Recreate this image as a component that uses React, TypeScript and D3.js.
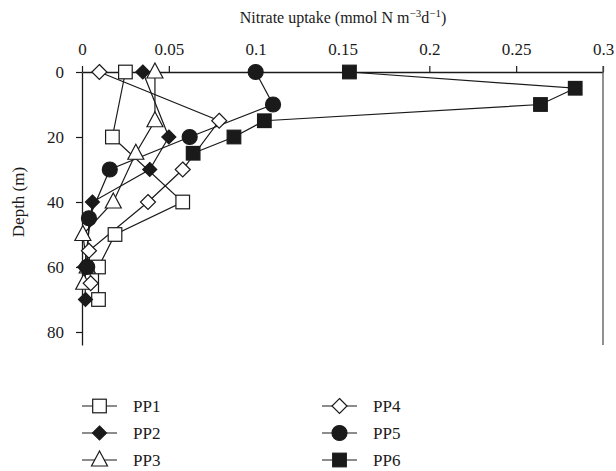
import { useEffect, useRef } from 'react'
import * as d3 from 'd3'

const seriesNames = ['PP1', 'PP2', 'PP3', 'PP4', 'PP5', 'PP6']
const markerKinds = ['square-open', 'diamond-filled', 'triangle-open', 'diamond-open', 'circle-filled', 'square-filled']

const pp1Depth = [0, 20, 40, 50, 60, 70]
const pp1Uptake = [0.025, 0.0175, 0.058, 0.019, 0.0095, 0.0095]
const pp2Depth = [0, 20, 30, 40, 60, 70]
const pp2Uptake = [0.035, 0.05, 0.039, 0.006, 0.0015, 0.002]
const pp3Depth = [0, 15, 25, 40, 50, 60, 65]
const pp3Uptake = [0.042, 0.042, 0.031, 0.018, 0.0005, 0.003, 0.001]
const pp4Depth = [0, 15, 30, 40, 55, 65]
const pp4Uptake = [0.01, 0.079, 0.058, 0.038, 0.004, 0.005]
const pp5Depth = [0, 10, 20, 30, 45, 60]
const pp5Uptake = [0.1, 0.11, 0.062, 0.016, 0.004, 0.003]
const pp6Depth = [0, 5, 10, 15, 20, 25]
const pp6Uptake = [0.154, 0.284, 0.264, 0.105, 0.0875, 0.064]

const allDepths = [pp1Depth, pp2Depth, pp3Depth, pp4Depth, pp5Depth, pp6Depth]
const allUptakes = [pp1Uptake, pp2Uptake, pp3Uptake, pp4Uptake, pp5Uptake, pp6Uptake]

const xTicks = [0, 0.05, 0.1, 0.15, 0.2, 0.25, 0.3]
const yTicks = [0, 20, 40, 60, 80]

const width = 616
const height = 471
const font = "'Liberation Serif', 'DejaVu Serif', serif"

function drawMarker(g: any, kind: string, cx: number, cy: number) {
  const filled = kind.endsWith('filled')
  const fill = filled ? '#1a1a1a' : '#fff'
  const stroke = '#1a1a1a'
  if (kind.startsWith('square')) {
    g.append('rect')
      .attr('x', cx - 6.8).attr('y', cy - 6.8)
      .attr('width', 13.6).attr('height', 13.6)
      .attr('fill', fill).attr('stroke', stroke).attr('stroke-width', 1.2)
  } else if (kind.startsWith('diamond')) {
    const r = filled ? 7 : 7.5
    g.append('path')
      .attr('d', `M${cx},${cy - r}L${cx + r},${cy}L${cx},${cy + r}L${cx - r},${cy}Z`)
      .attr('fill', fill).attr('stroke', stroke).attr('stroke-width', 1.2)
  } else if (kind.startsWith('triangle')) {
    g.append('path')
      .attr('d', `M${cx},${cy - 9}L${cx + 8},${cy + 6}L${cx - 8},${cy + 6}Z`)
      .attr('fill', fill).attr('stroke', stroke).attr('stroke-width', 1.2)
  } else {
    g.append('circle')
      .attr('cx', cx).attr('cy', cy).attr('r', 7.5)
      .attr('fill', fill).attr('stroke', stroke).attr('stroke-width', 1.2)
  }
}

const App = () => {
  const ref = useRef<SVGSVGElement>(null)

  useEffect(() => {
    if (!ref.current) return
    const svg = d3.select(ref.current)
    svg.selectAll('*').remove()

    const x = d3.scaleLinear().domain([0, 0.3]).range([82, 603])
    const y = d3.scaleLinear().domain([0, 84]).range([72, 345])

    // x axis on top
    const xAxis = svg.append('g')
      .attr('transform', `translate(0,${y(0)})`)
      .call(d3.axisTop(x).tickValues(xTicks).tickSize(6).tickSizeOuter(0).tickFormat(d => String(+d)))
    xAxis.attr('font-family', null).attr('font-size', null)
    xAxis.select('.domain').attr('stroke', '#1a1a1a').attr('stroke-width', 1.3)
    xAxis.selectAll('.tick line').attr('stroke', '#1a1a1a').attr('stroke-width', 1.2)
    xAxis.selectAll('.tick text')
      .attr('y', -17)
      .style('font-family', font).style('font-size', '17px').attr('fill', '#1a1a1a')

    // y axis
    const yAxis = svg.append('g')
      .attr('transform', `translate(${x(0)},0)`)
      .call(d3.axisLeft(y).tickValues(yTicks).tickSize(6).tickSizeOuter(0))
    yAxis.attr('font-family', null).attr('font-size', null)
    yAxis.select('.domain').attr('stroke', '#1a1a1a').attr('stroke-width', 1.3)
    yAxis.selectAll('.tick line').attr('stroke', '#1a1a1a').attr('stroke-width', 1.2)
    yAxis.selectAll('.tick text')
      .attr('x', -18)
      .style('font-family', font).style('font-size', '17px').attr('fill', '#1a1a1a')

    // right frame line
    svg.append('line')
      .attr('x1', x(0.3)).attr('x2', x(0.3))
      .attr('y1', y(0) - 6).attr('y2', y(84))
      .attr('stroke', '#555').attr('stroke-width', 1.3)

    // title
    const title = svg.append('text')
      .attr('x', 343).attr('y', 23)
      .attr('text-anchor', 'middle')
      .style('font-family', font).style('font-size', '16px').attr('fill', '#1a1a1a')
    title.append('tspan').text('Nitrate uptake (mmol N m')
    title.append('tspan').text('\u22123').attr('dy', -6).style('font-size', '11px')
    title.append('tspan').text('d').attr('dy', 6)
    title.append('tspan').text('\u22121').attr('dy', -6).style('font-size', '11px')
    title.append('tspan').text(')').attr('dy', 6)

    svg.append('text')
      .attr('transform', `translate(24,${y(40)}) rotate(-90)`)
      .attr('text-anchor', 'middle')
      .style('font-family', font).style('font-size', '17px').attr('fill', '#1a1a1a')
      .text('Depth (m)')

    const line = d3.line<[number, number]>().x(d => x(d[0])).y(d => y(d[1]))

    seriesNames.forEach((name, i) => {
      const pts: [number, number][] = allUptakes[i].map((v, j) => [v, allDepths[i][j]])
      svg.append('path')
        .attr('d', line(pts))
        .attr('fill', 'none')
        .attr('stroke', '#1a1a1a')
        .attr('stroke-width', 1.2)
    })
    seriesNames.forEach((name, i) => {
      const g = svg.append('g')
      allUptakes[i].forEach((v, j) => drawMarker(g, markerKinds[i], x(v), y(allDepths[i][j])))
    })

    // legend
    const rowY = [406, 433, 460]
    seriesNames.forEach((name, i) => {
      const col = Math.floor(i / 3)
      const lx = col === 0 ? 82 : 322
      const ly = rowY[i % 3]
      const g = svg.append('g')
      g.append('line')
        .attr('x1', lx).attr('x2', lx + 35)
        .attr('y1', ly).attr('y2', ly)
        .attr('stroke', '#1a1a1a').attr('stroke-width', 1.2)
      drawMarker(g, markerKinds[i], lx + 17.5, ly)
      g.append('text')
        .attr('x', lx + 51).attr('y', ly + 5.5)
        .style('font-family', font).style('font-size', '17px').attr('fill', '#1a1a1a')
        .text(name)
    })
  }, [])

  return (
    <svg
      ref={ref}
      width={width}
      height={height}
      style={{ position: 'absolute', left: 0, top: 0, background: '#fff' }}
    />
  )
}

export default App
